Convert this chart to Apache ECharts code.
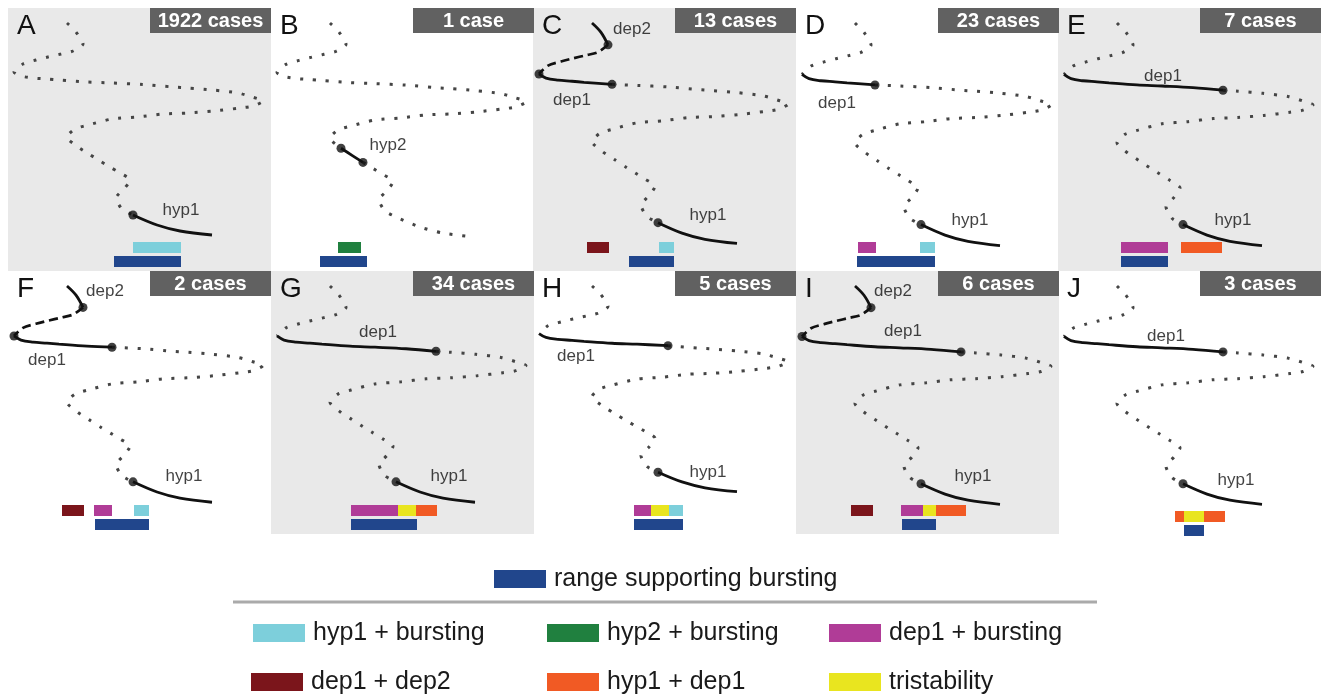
<!DOCTYPE html>
<html>
<head>
<meta charset="utf-8">
<script src="https://cdn.jsdelivr.net/npm/echarts@6/dist/echarts.min.js"></script>
<style>
    html, body { margin: 0; padding: 0; background: #fff; }
    #chart { width: 1321px; height: 695px; }
</style>
</head>
<body>
<div id="chart"></div>
<script>
    // panel header texts
    var panelLetters = ['A', 'B', 'C', 'D', 'E', 'F', 'G', 'H', 'I', 'J'];
    var caseCounts = ['1922 cases', '1 case', '13 cases', '23 cases', '7 cases',
                      '2 cases', '34 cases', '5 cases', '6 cases', '3 cases'];
    var shaded = [true, false, true, false, true, false, true, false, true, false];

    // the S shaped branch, in panel units (x right, y down)
    var sCurve = [
        [59, 15], [68, 24], [75, 36], [65, 43], [53, 46], [40, 49], [28, 52], [15, 56], [6, 64],
        [13, 68], [25, 70], [39, 71], [51, 72], [79, 74], [104, 75], [135, 76.5], [165, 79],
        [180, 80], [205, 82], [230, 85], [244, 89], [255, 93], [245, 98], [232, 100], [206, 103],
        [180, 105], [155, 106], [130, 109], [104, 111], [80, 117], [67, 121], [59, 129],
        [70, 139], [81, 146], [92, 153], [102, 159], [112, 165], [122, 172], [116, 181], [108, 190],
        [114, 201], [125, 207], [149, 217], [172, 223], [204, 227]
    ];

    // index ranges of sCurve drawn in each style, per panel
    var dottedParts = [
        [[0, 41]], [[0, 32], [34, 44]], [[13, 41]], [[0, 8], [13, 41]], [[0, 8], [16, 41]],
        [[14, 41]], [[0, 8], [16, 41]], [[0, 8], [15, 41]], [[16, 41]], [[0, 8], [16, 41]]
    ];
    var solidParts = [
        [[41, 44]], [[32, 34]], [[0, 2], [8, 13], [41, 44]], [[8, 13], [41, 44]], [[8, 16], [41, 44]],
        [[0, 2], [8, 14], [41, 44]], [[8, 16], [41, 44]], [[8, 15], [41, 44]], [[0, 2], [8, 16], [41, 44]], [[8, 16], [41, 44]]
    ];
    var dashedParts = [[], [], [[2, 8]], [], [], [[2, 8]], [], [], [[2, 8]], []];
    var dotIdx = [[41], [32, 34], [2, 8, 13, 41], [13, 41], [16, 41], [2, 8, 14, 41], [16, 41], [15, 41], [2, 8, 16, 41], [16, 41]];

    var branchLabels = [
        [['hyp1', 173, 202]],
        [['hyp2', 117, 137]],
        [['dep2', 99, 21], ['dep1', 39, 92], ['hyp1', 175, 207]],
        [['dep1', 41, 95], ['hyp1', 174, 212]],
        [['dep1', 105, 68], ['hyp1', 175, 212]],
        [['dep2', 97, 20], ['dep1', 39, 89], ['hyp1', 176, 205]],
        [['dep1', 107, 61], ['hyp1', 178, 205]],
        [['dep1', 43, 85], ['hyp1', 175, 201]],
        [['dep2', 97, 20], ['dep1', 107, 60], ['hyp1', 177, 205]],
        [['dep1', 108, 65], ['hyp1', 178, 209]]
    ];

    // legend categories
    var catKeys = ['range', 'hyp1b', 'hyp2b', 'dep1b', 'dep12', 'hyp1dep1', 'tri'];
    var catNames = ['range supporting bursting', 'hyp1 + bursting', 'hyp2 + bursting', 'dep1 + bursting',
                    'dep1 + dep2', 'hyp1 + dep1', 'tristability'];
    var catColors = ['#21468c', '#7dcfdb', '#20803f', '#b03c97', '#7b151b', '#f15a24', '#e9e51f'];

    // bars under each panel: [category, from, to, row]
    var panelBars = [
        [['hyp1b', 125, 173, 0], ['range', 106, 173, 1]],
        [['hyp2b', 67, 90, 0], ['range', 49, 96, 1]],
        [['dep12', 54, 76, 0], ['hyp1b', 126, 141, 0], ['range', 96, 141, 1]],
        [['dep1b', 62, 80, 0], ['hyp1b', 124, 139, 0], ['range', 61, 139, 1]],
        [['dep1b', 63, 110, 0], ['hyp1dep1', 123, 164, 0], ['range', 63, 110, 1]],
        [['dep12', 54, 76, 0], ['dep1b', 86, 104, 0], ['hyp1b', 126, 141, 0], ['range', 87, 141, 1]],
        [['dep1b', 80, 127, 0], ['tri', 127, 145, 0], ['hyp1dep1', 145, 166, 0], ['range', 80, 146, 1]],
        [['dep1b', 101, 118, 0], ['tri', 118, 136, 0], ['hyp1b', 136, 150, 0], ['range', 101, 150, 1]],
        [['dep12', 55, 77, 0], ['dep1b', 105, 127, 0], ['tri', 127, 140, 0], ['hyp1dep1', 140, 170, 0], ['range', 106, 140, 1]],
        [['hyp1dep1', 117, 167, 0], ['tri', 126, 146, 0], ['range', 126, 146, 1]]
    ];

    var FONT = '"Liberation Sans", Arial, Helvetica, sans-serif';
    var colX = [8, 271, 533, 796, 1058];
    var rowY = [8, 271];
    var PW = 263, PH = 263;
    var barRowTop = [234, 248];
    var barH = 11;
    // vertical stretch of the drawn branch in each panel (about its top end)
    var stretch = [1.0, 1.01, 1.04, 1.05, 1.05, 1.02, 1.02, 0.97, 1.03, 1.03];

    var grids = [], xAxes = [], yAxes = [], series = [], graphics = [];

    function slice(r) { return sCurve.slice(r[0], r[1] + 1); }

    function barRender(drop) {
        return function (params, api) {
            var top = barRowTop[api.value(2)] + drop;
            var a = api.coord([api.value(0), top]);
            var b = api.coord([api.value(1), top + barH]);
            return {
                type: 'rect',
                shape: { x: a[0], y: Math.min(a[1], b[1]), width: b[0] - a[0], height: Math.abs(b[1] - a[1]) },
                style: { fill: api.visual('color') }
            };
        };
    }

    for (var p = 0; p < 10; p++) {
        var gx = colX[p % 5], gy = rowY[Math.floor(p / 5)];
        var k = stretch[p];
        var yFlat = 2 * p, yCurve = 2 * p + 1;
        grids.push({
            left: gx, top: gy, width: PW, height: PH,
            show: shaded[p], backgroundColor: '#e9e9e9', borderWidth: 0
        });
        xAxes.push({ type: 'value', gridIndex: p, min: 0, max: PW, show: false });
        yAxes.push({ type: 'value', gridIndex: p, min: 0, max: PH, inverse: true, show: false });
        yAxes.push({ type: 'value', gridIndex: p, min: 15 - 15 / k, max: 15 - 15 / k + PH / k, inverse: true, show: false });

        dottedParts[p].forEach(function (r) {
            series.push({
                type: 'line', xAxisIndex: p, yAxisIndex: yCurve, data: slice(r), symbol: 'none',
                smooth: 0.25, silent: true, z: 2,
                lineStyle: { color: '#454545', width: 3, type: [3, 9.8], cap: 'butt' }
            });
        });
        dashedParts[p].forEach(function (r) {
            series.push({
                type: 'line', xAxisIndex: p, yAxisIndex: yCurve, data: slice(r), symbol: 'none',
                smooth: 0.3, silent: true, z: 3,
                lineStyle: { color: '#111', width: 2.7, type: [9, 5] }
            });
        });
        solidParts[p].forEach(function (r) {
            series.push({
                type: 'line', xAxisIndex: p, yAxisIndex: yCurve, data: slice(r), symbol: 'none',
                smooth: 0.35, silent: true, z: 3,
                lineStyle: { color: '#111', width: 2.8 }
            });
        });
        series.push({
            type: 'scatter', xAxisIndex: p, yAxisIndex: yCurve, silent: true, z: 4,
            data: dotIdx[p].map(function (i) { return sCurve[i]; }),
            symbolSize: 9, itemStyle: { color: '#111' }
        });
        series.push({
            type: 'scatter', xAxisIndex: p, yAxisIndex: yFlat, silent: true, z: 5,
            data: branchLabels[p].map(function (l) { return [l[1], l[2], l[0]]; }),
            symbolSize: 1, itemStyle: { color: 'rgba(0,0,0,0)' },
            label: {
                show: true, position: 'inside', color: '#111', fontSize: 17, fontFamily: FONT,
                textBorderWidth: 0, textBorderColor: 'transparent',
                formatter: function (d) { return d.value[2]; }
            }
        });

        // bars, one series per category so the legends pick them up
        var drop = p === 9 ? 6 : 0;
        catKeys.forEach(function (key, ci) {
            var items = panelBars[p].filter(function (b) { return b[0] === key; })
                .map(function (b) { return [b[1], b[2], b[3]]; });
            if (!items.length) return;
            series.push({
                type: 'custom', name: catNames[ci], xAxisIndex: p, yAxisIndex: yFlat,
                data: items, clip: false, silent: true, z: key === 'tri' ? 4 : 3,
                itemStyle: { color: catColors[ci] },
                renderItem: barRender(drop)
            });
        });

        // letter and case badge
        graphics.push({
            type: 'text', left: gx + 9, top: gy + 4,
            style: { text: panelLetters[p], fill: '#111', font: '28px ' + FONT }
        });
        graphics.push({
            type: 'rect', shape: { x: gx + 142, y: gy, width: 121, height: 25 },
            style: { fill: '#616161' }
        });
        graphics.push({
            type: 'text', x: gx + 202.5, y: gy + 13,
            style: { text: caseCounts[p], fill: '#fff', font: 'bold 20px ' + FONT, align: 'center', verticalAlign: 'middle' }
        });
    }

    graphics.push({
        type: 'line', shape: { x1: 233, y1: 602, x2: 1097, y2: 602 },
        style: { stroke: '#aaaaaa', lineWidth: 3 }
    });

    // legend slots [left, top]
    var legendPos = [[494, 566], [253, 620], [547, 620], [829, 620], [251, 669], [547, 669], [829, 669]];
    var legends = catNames.map(function (n, i) {
        return {
            data: [{ name: n, itemStyle: { color: catColors[i] } }],
            left: legendPos[i][0], top: legendPos[i][1], padding: 0,
            icon: 'rect', itemWidth: 52, itemHeight: 18, selectedMode: false,
            textStyle: { fontSize: 25, color: '#1a1a1a', fontFamily: FONT, lineHeight: 26, padding: [0, 0, 0, 3] }
        };
    });

    var chart = echarts.init(document.getElementById('chart'));
    chart.setOption({
        animation: false,
        grid: grids,
        xAxis: xAxes,
        yAxis: yAxes,
        legend: legends,
        graphic: graphics,
        series: series
    });
</script>
</body>
</html>
